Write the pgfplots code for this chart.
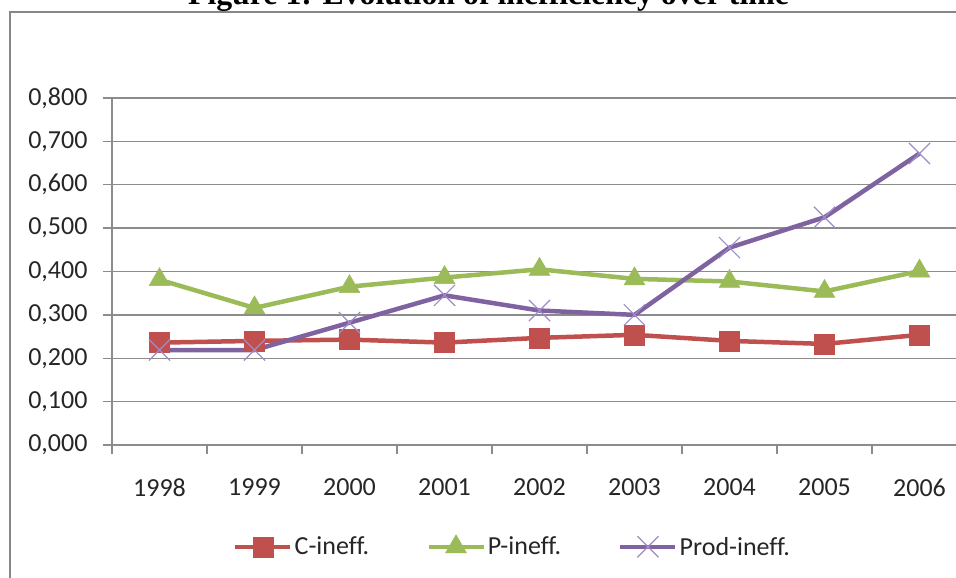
\documentclass[border=0pt]{standalone}
\usepackage{pgfplots}
\pgfplotsset{compat=1.18}
\usepackage{fontspec}
\setmainfont{Carlito}[Ligatures=CommonOff]
\newfontfamily\titlefont{Liberation Serif}[Ligatures=CommonOff]

\definecolor{cred}{HTML}{C0504D}
\definecolor{cgreen}{HTML}{9BBB59}
\definecolor{cpurple}{HTML}{7F63A1}
\definecolor{cpurplelt}{HTML}{A08BC6}
\definecolor{gridgray}{HTML}{8C8C8C}
\definecolor{framegray}{HTML}{878787}

\begin{document}
\begin{tikzpicture}[x=1bp,y=1bp]
\path[use as bounding box] (0,0) rectangle (956,578);
\clip (0,0) rectangle (956,578);

% outer chart frame and title
\draw[framegray, line width=2.2bp] (10,-20) |- (1000,566);
\node[anchor=base, inner sep=0pt, font=\titlefont\bfseries\fontsize{31.8bp}{36bp}\selectfont]
  at (488.5,573.5) {Figure 1: Evolution of inefficiency over time};

\begin{axis}[
  at={(112bp,133bp)}, anchor=south west,
  scale only axis, width=855bp, height=347bp,
  xmin=-0.5, xmax=8.5, ymin=0, ymax=0.8,
  axis x line*=bottom, axis y line*=left,
  axis line style={draw=gridgray, line width=1.4bp, -},
  xtick={0,...,8},
  xticklabels={1998,1999,2000,2001,2002,2003,2004,2005,2006},
  major x tick style={draw=none},
  minor xtick={-0.5,0.5,...,8.5},
  minor x tick style={draw=gridgray, line width=1.4bp},
  ytick={0,0.1,...,0.8},
  y tick style={draw=gridgray, line width=1.4bp},
  tick align=outside,
  major tick length=9bp, minor tick length=9bp,
  ymajorgrids,
  major grid style={draw=gridgray, line width=1.4bp},
  /pgf/number format/.cd, fixed, fixed zerofill, precision=3, use comma, assume math mode=true,
  /pgfplots/.cd,
  tick label style={font=\fontsize{26bp}{30bp}\selectfont, text=black!85},
  yticklabel style={xshift=-12bp},
  xticklabel style={yshift=-21bp},
  legend columns=3,
  legend style={at={(axis description cs:0.1380,-0.2930)}, anchor=west,
    draw=none, fill=none, font=\fontsize{26bp}{30bp}\selectfont,
    nodes={inner sep=2bp, text=black!85},
    /tikz/every even column/.append style={column sep=55bp}},
  legend image code/.code={%
    \draw[mark repeat=2, mark phase=2, #1]
      plot coordinates {(0bp,0bp) (27.5bp,0bp) (55bp,0bp)};},
]
\addplot[cred, line width=4.5bp, mark=square*, mark size=10bp,
  mark options={solid, line width=0.5bp}]
  coordinates {(0,0.236) (1,0.240) (2,0.243) (3,0.236) (4,0.247)
               (5,0.254) (6,0.240) (7,0.233) (8,0.254)};
\addlegendentry{C-ineff.}
\addplot[cgreen, line width=4.5bp, mark=triangle*, mark size=12bp,
  mark options={solid, line width=0.5bp}]
  coordinates {(0,0.381) (1,0.316) (2,0.365) (3,0.386) (4,0.405)
               (5,0.383) (6,0.377) (7,0.354) (8,0.401)};
\addlegendentry{P-ineff.}
\addplot[cpurple, line width=4.5bp, mark=x, mark size=15bp,
  mark options={solid, draw=cpurplelt, line width=1.2bp}]
  coordinates {(0,0.219) (1,0.219) (2,0.282) (3,0.345) (4,0.310)
               (5,0.300) (6,0.455) (7,0.525) (8,0.672)};
\addlegendentry{Prod-ineff.}
\end{axis}
\end{tikzpicture}
\end{document}
